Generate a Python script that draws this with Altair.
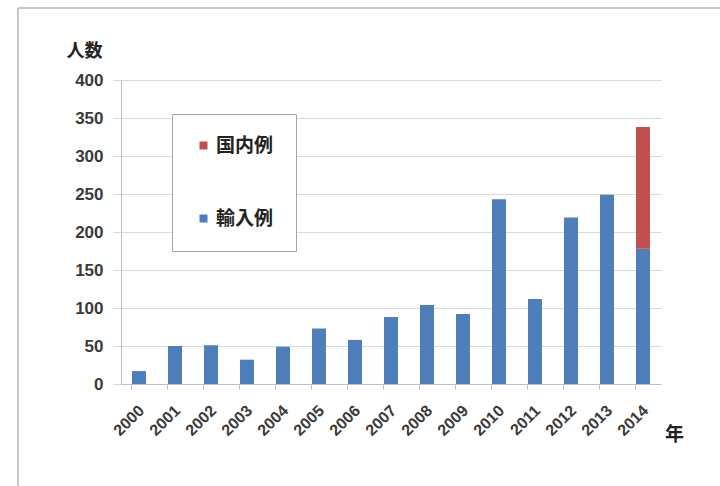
import altair as alt
import pandas as pd

years = ["2000", "2001", "2002", "2003", "2004", "2005", "2006", "2007",
         "2008", "2009", "2010", "2011", "2012", "2013", "2014"]
imported = [17, 50, 51, 32, 49, 73, 58, 88, 104, 92, 243, 112, 219, 249, 178]
domestic = [0, 0, 0, 0, 0, 0, 0, 0, 0, 0, 0, 0, 0, 0, 160]
series_names = ["国内例", "輸入例"]
series_colors = ["#c0504d", "#4f7fbb"]

rows = []
for y, imp, dom in zip(years, imported, domestic):
    rows.append({"年": y, "種別": "輸入例", "人数": imp, "順": 0})
    rows.append({"年": y, "種別": "国内例", "人数": dom, "順": 1})
df = pd.DataFrame(rows)

NUM_FONT = "Liberation Sans"
CJK_FONT = "Noto Sans CJK JP"

bars = alt.Chart(df).mark_bar(size=14).encode(
    x=alt.X("年:N", sort=years,
            scale=alt.Scale(paddingInner=0.61, paddingOuter=0.305),
            axis=alt.Axis(title="年", titleAngle=0, titleX=553, titleY=50,
                          titleAlign="center", titleBaseline="middle",
                          titleFont=CJK_FONT, titleFontSize=19, titleFontWeight="bold",
                          titleColor="#222222",
                          labelAngle=-45, labelAlign="right", labelBaseline="top",
                          labelFont=NUM_FONT, labelFontSize=16,
                          labelFontWeight="bold",
                          labelColor="#3a3a3a", labelPadding=13,
                          bandPosition=0, labelOffset=-3,
                          tickSize=5, tickColor="#bfbfbf",
                          domainColor="#bfbfbf", grid=False)),
    y=alt.Y("人数:Q", stack="zero",
            scale=alt.Scale(domain=[0, 400]),
            axis=alt.Axis(title="人数", titleAngle=0, titleX=-37, titleY=-29,
                          titleAlign="center", titleBaseline="middle",
                          titleFont=CJK_FONT, titleFontSize=18, titleFontWeight="bold",
                          titleColor="#222222",
                          values=[0, 50, 100, 150, 200, 250, 300, 350, 400],
                          labelFont=NUM_FONT, labelFontSize=17, labelFontWeight="bold",
                          labelColor="#3a3a3a", labelPadding=10,
                          tickSize=8, tickColor="#d9d9d9",
                          domainColor="#bfbfbf", gridColor="#d9d9d9")),
    color=alt.Color("種別:N",
                    scale=alt.Scale(domain=series_names, range=series_colors),
                    legend=alt.Legend(title=None, orient="none", legendX=51, legendY=34,
                                      padding=22, strokeColor="#a6a6a6", fillColor="white",
                                      labelFont=CJK_FONT, labelFontSize=19,
                                      labelFontWeight="bold", labelColor="#222222",
                                      symbolType="square", symbolSize=64,
                                      symbolStrokeWidth=0, rowPadding=53, labelOffset=3)),
    order=alt.Order("順:Q", sort="ascending"),
)

frame_top = alt.Chart(df).mark_rule(color="#c8c8c8", strokeWidth=1).encode(
    x=alt.value(-103), x2=alt.value(620), y=alt.value(-72)
)
frame_left = alt.Chart(df).mark_rule(color="#c8c8c8", strokeWidth=1).encode(
    x=alt.value(-103), y=alt.value(-72), y2=alt.value(420)
)

chart = alt.layer(frame_top, frame_left, bars).properties(
    width=540, height=304,
    autosize=alt.AutoSizeParams(type="none"),
    padding={"left": 121, "top": 80, "right": 59, "bottom": 102},
    background="white",
).configure_view(stroke=None)

chart.save("out.html", embed_options={"renderer": "svg", "actions": False})
